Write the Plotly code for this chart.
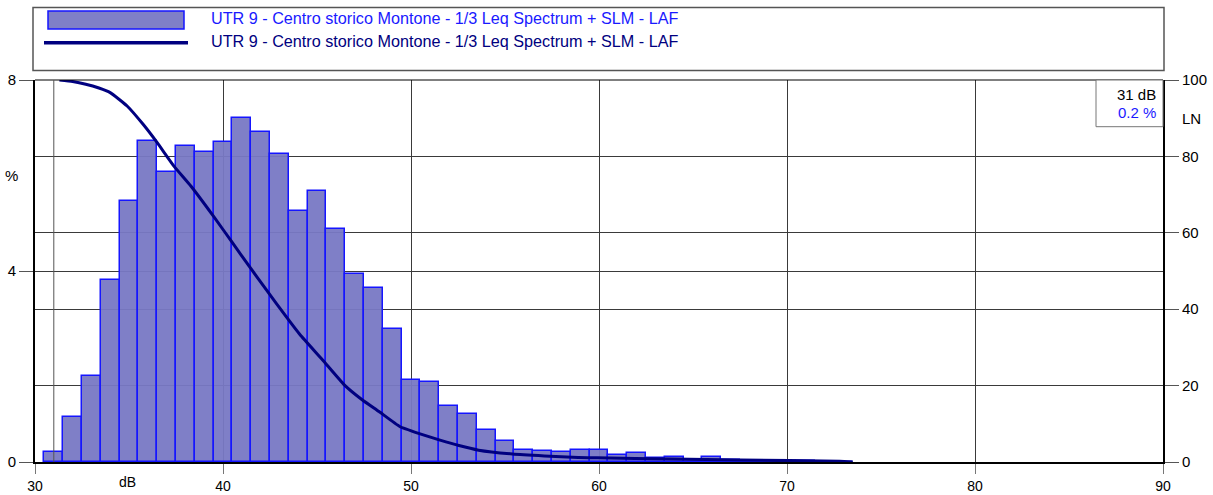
import plotly.graph_objects as go

# histogram of levels (1 dB classes), percent of time
db_classes = list(range(31, 74))
percent = [0.22, 0.95, 1.80, 3.81, 5.47, 6.72, 6.08, 6.62, 6.49, 6.71,
           7.20, 6.91, 6.44, 5.26, 5.67, 4.88, 3.93, 3.65, 2.78, 1.71,
           1.67, 1.17, 1.01, 0.66, 0.43, 0.26, 0.24, 0.22, 0.25, 0.25,
           0.14, 0.18, 0.08, 0.11, 0.05, 0.10, 0.05, 0.03, 0.03, 0.02,
           0.02, 0.01, 0.01]

# LN curve (percentile level)
ln_db = [31.3, 32.0, 32.7, 33.4, 34.0, 34.9, 35.75, 36.5, 37.4, 38.3,
         39.5, 40.5, 41.4, 42.3, 43.35, 44.1, 45.3, 46.45, 47.4, 48.3,
         49.4, 50.4, 51.5, 52.55, 53.6, 55.4, 57.1, 58.9, 59.9, 63.9,
         67.5, 72.8, 73.5]
ln_val = [100, 99.6, 98.9, 97.9, 96.7, 93.2, 88.4, 83.6, 77.4, 72.2,
          64.3, 57.4, 51.2, 45.1, 38.1, 33.3, 26.7, 20.2, 16.3, 13.2,
          9.3, 7.5, 5.8, 4.3, 3.1, 2.1, 1.6, 1.2, 1.1, 0.8,
          0.5, 0.2, 0.0]

series_name = "UTR 9 - Centro storico Montone - 1/3 Leq Spectrum + SLM - LAF"
cursor_db = 31
cursor_pct = 0.2

W, H = 1213, 495
L, R, T, B = 35, 50, 80, 33
pw, ph = W - L - R, H - T - B

def px(x):
    return (x - L) / pw

def py(y):
    return (H - B - y) / ph

bar_fill = "rgba(120,120,196,0.95)"
bar_line = "#1515ff"
navy = "#000080"
font = "Arial, Liberation Sans, sans-serif"

fig = go.Figure()
fig.add_trace(go.Bar(x=db_classes, y=percent, width=1,
                     marker=dict(color=bar_fill, line=dict(color=bar_line, width=1.5)),
                     name=series_name, showlegend=False))
fig.add_trace(go.Scatter(x=ln_db, y=ln_val, yaxis="y2", mode="lines",
                         line=dict(color=navy, width=3, shape="spline", smoothing=0.4),
                         name=series_name, showlegend=False))

grid = "#3a3a3a"
fig.update_layout(
    width=W, height=H,
    margin=dict(l=L, r=R, t=T, b=B),
    paper_bgcolor="white", plot_bgcolor="white",
    font=dict(family=font, size=15, color="black"),
    bargap=0,
    xaxis=dict(range=[30, 90], tickvals=[30, 40, 50, 60, 70, 80, 90],
               showgrid=True, gridcolor=grid, gridwidth=1, automargin=False,
               showline=True, linecolor="black", linewidth=2,
               ticks="outside", ticklen=10, tickcolor="#777", zeroline=False,
               tickfont=dict(size=14)),
    yaxis=dict(range=[0, 8], tickvals=[0, 4, 8], showgrid=True, automargin=False,
               gridcolor=grid, gridwidth=1, showline=True, linecolor="black",
               linewidth=2, ticks="outside", ticklen=14, tickcolor="#555",
               zeroline=False),
    yaxis2=dict(range=[0, 100], tickvals=[0, 20, 40, 60, 80, 100], automargin=False,
                overlaying="y", side="right", showgrid=True, gridcolor=grid,
                gridwidth=1, showline=True, linecolor="black", linewidth=2,
                ticks="outside", ticklen=14, tickcolor="#555", zeroline=False),
)

shapes = [
    # top border of plot
    dict(type="line", xref="paper", yref="paper", x0=0, x1=1, y0=1, y1=1,
         line=dict(color="black", width=1)),
    # cursor line
    dict(type="line", xref="x", yref="paper", x0=cursor_db, x1=cursor_db, y0=0, y1=1,
         line=dict(color="#555", width=1)),
    # legend frame
    dict(type="rect", xref="paper", yref="paper", x0=px(33), x1=px(1164),
         y0=py(70.5), y1=py(7.5), line=dict(color="#555", width=1.5),
         fillcolor="white"),
    dict(type="rect", xref="paper", yref="paper", x0=px(48), x1=px(184),
         y0=py(29), y1=py(11), line=dict(color=bar_line, width=1.5),
         fillcolor=bar_fill),
    dict(type="line", xref="paper", yref="paper", x0=px(44), x1=px(188),
         y0=py(42.7), y1=py(42.7), line=dict(color=navy, width=3.5)),
    # cursor readout box
    dict(type="rect", xref="paper", yref="paper", x0=px(1096), x1=1.0,
         y0=py(126.7), y1=1.0, line=dict(color="#777", width=1),
         fillcolor="white"),
]
fig.update_layout(shapes=shapes)

annotations = [
    dict(text=series_name, x=px(209), y=py(18), xanchor="left", yanchor="middle",
         font=dict(size=16.2, color="#1a1aff")),
    dict(text=series_name, x=px(209), y=py(41), xanchor="left", yanchor="middle",
         font=dict(size=16.2, color=navy)),
    dict(text=f"{cursor_db} dB", x=px(1158), y=py(94), xanchor="right", yanchor="middle",
         font=dict(size=15, color="black")),
    dict(text=f"{cursor_pct} %", x=px(1158), y=py(113), xanchor="right", yanchor="middle",
         font=dict(size=15, color="#1a1aff")),
    dict(text="%", x=px(12), y=py(175), xanchor="center", yanchor="middle",
         font=dict(size=15)),
    dict(text="LN", x=px(1191), y=py(118), xanchor="center", yanchor="middle",
         font=dict(size=15)),
    dict(text="dB", x=px(127), y=py(482), xanchor="center", yanchor="middle",
         font=dict(size=14)),
]
for a in annotations:
    a.update(xref="paper", yref="paper", showarrow=False)
fig.update_layout(annotations=annotations)

# drop the page margin so the figure sits at the window's corner
fig.write_html("out.html", config={"displayModeBar": False},
               post_script="document.body.style.margin='0';")
